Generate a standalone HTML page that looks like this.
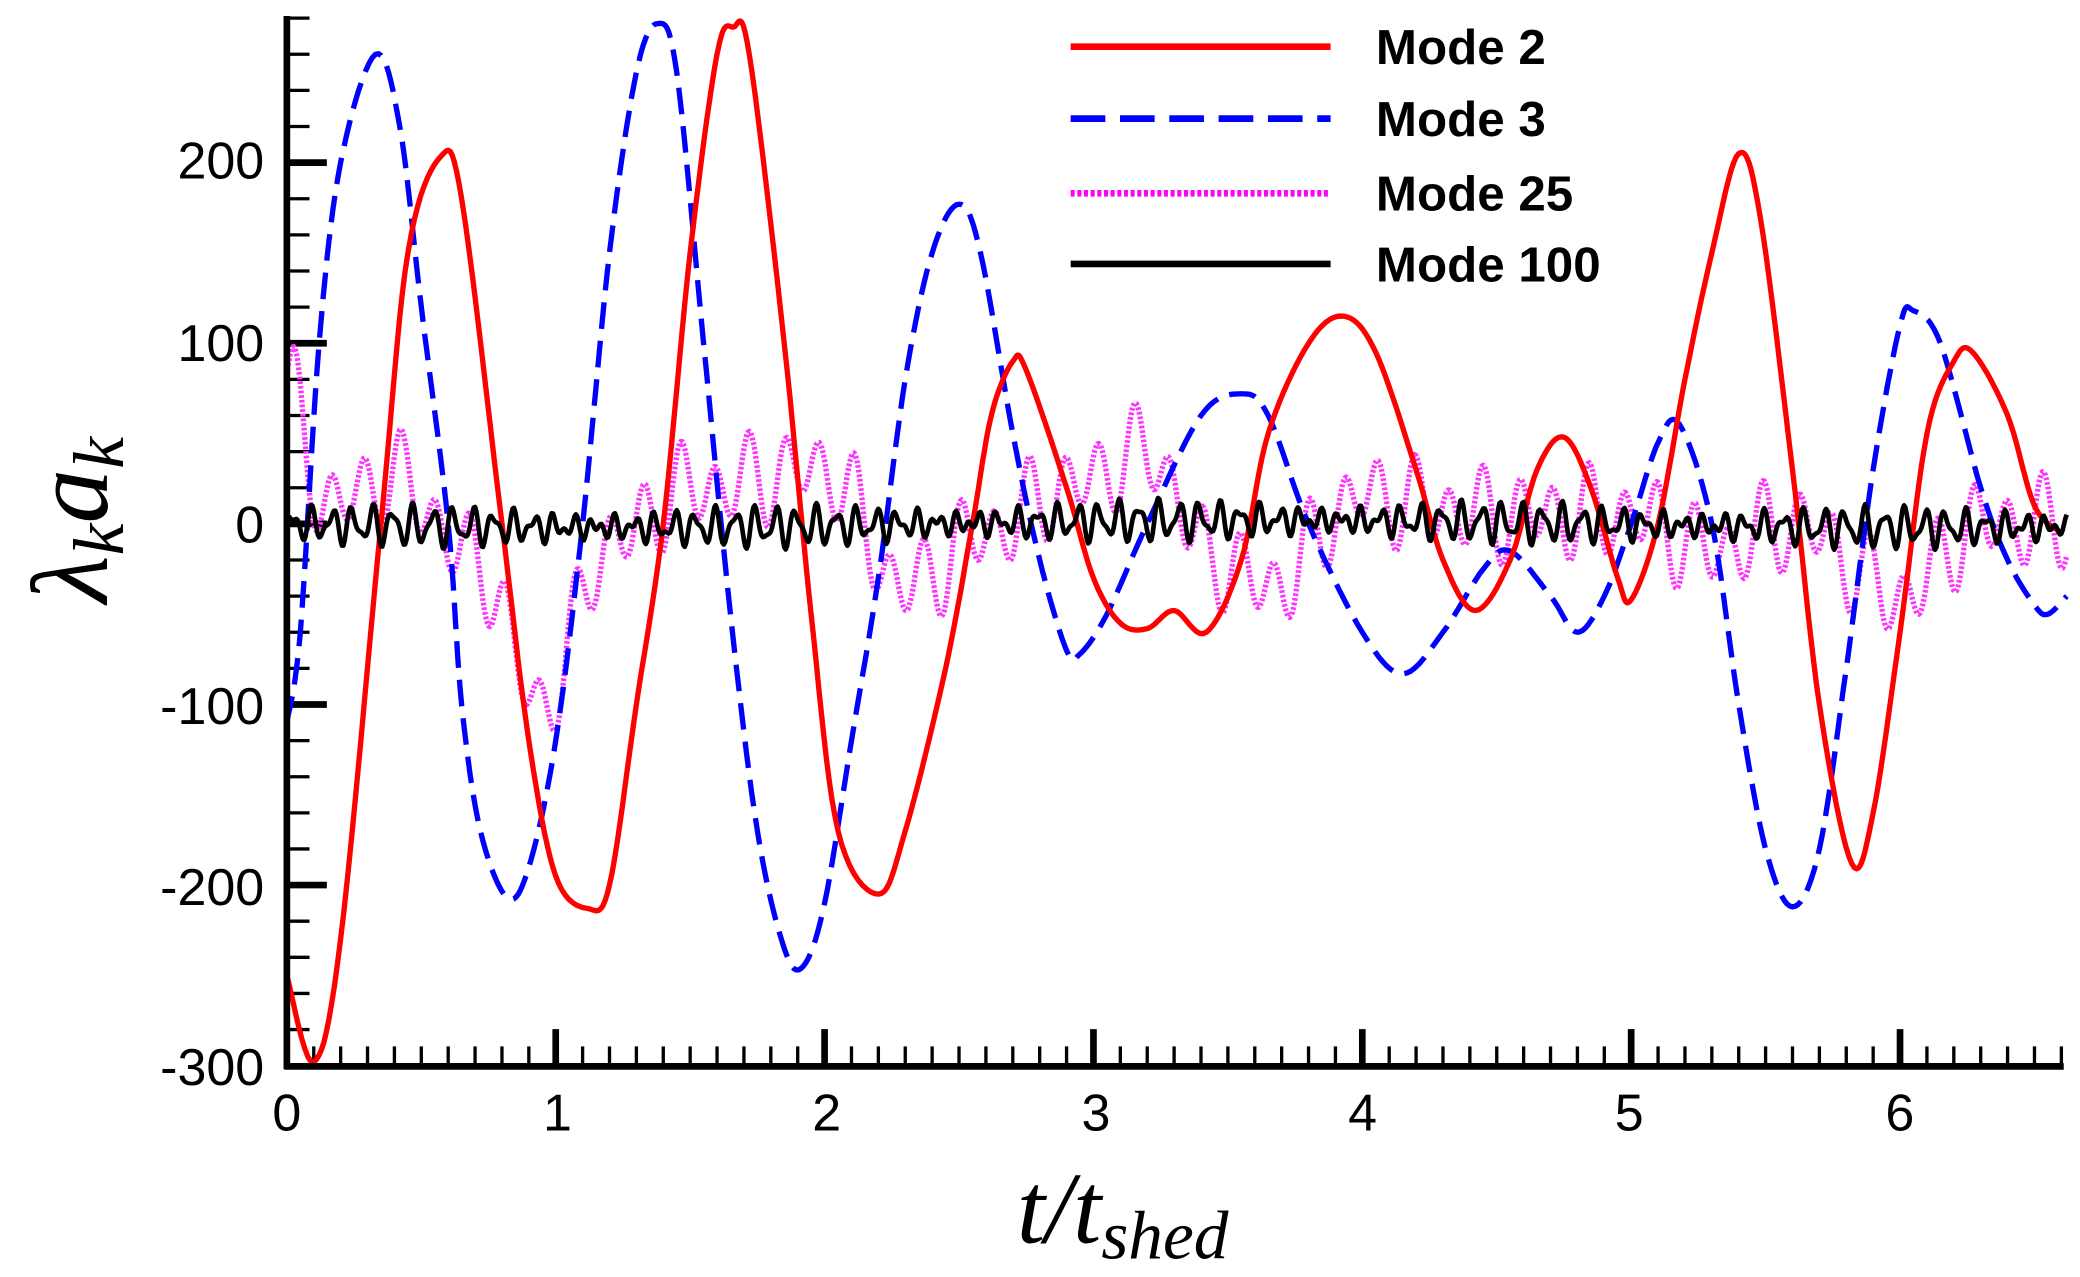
<!DOCTYPE html>
<html><head><meta charset="utf-8"><style>
html,body{margin:0;padding:0;background:#fff;width:2080px;height:1277px;overflow:hidden}
svg{display:block}
</style></head><body>
<svg id="s" width="2080" height="1277" viewBox="0 0 1560 958" xmlns="http://www.w3.org/2000/svg">
<g id="ticks" stroke="#000"></g>
<g id="curves" fill="none" stroke-linejoin="round"></g>
<line x1="215" y1="12" x2="215" y2="802" stroke="#000" stroke-width="5"/>
<line x1="213" y1="800" x2="1548" y2="800" stroke="#000" stroke-width="5"/>
<g font-family="Liberation Sans, sans-serif" font-size="39" fill="#000" text-anchor="end">
<text x="198" y="134">200</text><text x="198" y="271">100</text><text x="198" y="407">0</text>
<text x="198" y="543">-100</text><text x="198" y="679">-200</text><text x="198" y="814">-300</text>
</g>
<g font-family="Liberation Sans, sans-serif" font-size="39" fill="#000" text-anchor="middle">
<text x="215" y="848">0</text><text x="418" y="848">1</text><text x="620" y="848">2</text><text x="822" y="848">3</text>
<text x="1022" y="848">4</text><text x="1222" y="848">5</text><text x="1425" y="848">6</text>
</g>
<text x="842" y="932" font-family="Liberation Serif, serif" font-style="italic" font-size="76" text-anchor="middle">t/t<tspan font-size="52" dy="12">shed</tspan></text>
<text transform="translate(80,390) rotate(-90)" font-family="Liberation Serif, serif" font-style="italic" font-size="82" text-anchor="middle">λ<tspan font-size="54" dy="12">k</tspan><tspan dy="-12">a</tspan><tspan font-size="54" dy="12">k</tspan></text>
<g stroke-width="5">
<line x1="803" y1="35" x2="998" y2="35" stroke="#f00"/>
<line x1="803" y1="89" x2="998" y2="89" stroke="#00f" stroke-dasharray="26,11"/>
<line x1="803" y1="145" x2="998" y2="145" stroke="#f0f" stroke-dasharray="3,2"/>
<line x1="803" y1="198" x2="998" y2="198" stroke="#000"/>
</g>
<g font-family="Liberation Sans, sans-serif" font-weight="bold" font-size="37" fill="#000">
<text x="1032" y="48">Mode 2</text><text x="1032" y="102">Mode 3</text>
<text x="1032" y="158">Mode 25</text><text x="1032" y="211">Mode 100</text>
</g>
</svg>
<script>
var NS="http://www.w3.org/2000/svg";
function X(t){return 215+t*201.7}function Y(v){return 393-v*1.355}
var tk=document.getElementById('ticks');
function ln(x1,y1,x2,y2,w){var l=document.createElementNS(NS,'line');l.setAttribute('x1',x1);l.setAttribute('y1',y1);l.setAttribute('x2',x2);l.setAttribute('y2',y2);l.setAttribute('stroke-width',w);tk.appendChild(l);}
for(var i=1;i<=66;i++){var x=X(i/10);if(i%10==0)ln(x,800,x,772,5);else ln(x,800,x,785,2.5);}
for(var v=-280;v<=280;v+=20){var y=Y(v);if(v%100==0)ln(215,y,245,y,5);else ln(215,y,232,y,2.5);}
function path(pts,attrs){var d='';for(var i=0;i<pts.length;i++){var p=pts[i];d+=(i?'L':'M')+p[0].toFixed(1)+' '+p[1].toFixed(1);}
var e=document.createElementNS(NS,'path');e.setAttribute('d',d);for(var k in attrs)e.setAttribute(k,attrs[k]);document.getElementById('curves').appendChild(e);}
function spline(k){var out=[];for(var i=0;i<k.length-1;i++){var p0=k[Math.max(i-1,0)],p1=k[i],p2=k[i+1],p3=k[Math.min(i+2,k.length-1)];
for(var s=0;s<10;s++){var t=s/10,t2=t*t,t3=t2*t;var f=function(a,b,c,d){return 0.5*(2*b+(-a+c)*t+(2*a-5*b+4*c-d)*t2+(-a+3*b-3*c+d)*t3)};
out.push([X(f(p0[0],p1[0],p2[0],p3[0])),Y(f(p0[1],p1[1],p2[1],p3[1]))]);}}out.push([X(k[k.length-1][0]),Y(k[k.length-1][1])]);return out;}
var m2=[[0,-250],[0.1,-298],[0.2,-230],[0.35,0],[0.45,150],[0.57,203],[0.65,180],[0.8,0],[0.9,-120],[1.0,-195],[1.12,-213],[1.2,-200],[1.3,-100],[1.4,0],[1.5,150],[1.6,260],[1.66,275],[1.72,260],[1.85,100],[1.95,-50],[2.05,-170],[2.2,-205],[2.3,-170],[2.45,-80],[2.55,0],[2.62,60],[2.7,90],[2.75,85],[2.9,20],[3.0,-30],[3.1,-55],[3.2,-58],[3.3,-48],[3.42,-60],[3.55,-20],[3.65,50],[3.8,100],[3.93,115],[4.05,95],[4.2,30],[4.3,-20],[4.42,-48],[4.55,-20],[4.65,30],[4.75,48],[4.85,20],[4.95,-30],[5.0,-42],[5.1,0],[5.2,80],[5.3,150],[5.4,205],[5.48,170],[5.6,30],[5.7,-100],[5.82,-188],[5.9,-160],[6.0,-60],[6.1,50],[6.2,90],[6.27,95],[6.4,60],[6.5,10],[6.6,-5]];
var m3=[[0,-110],[0.05,-60],[0.12,100],[0.2,200],[0.33,260],[0.42,220],[0.5,120],[0.6,0],[0.65,-100],[0.72,-170],[0.82,-207],[0.9,-190],[1.0,-120],[1.1,0],[1.2,150],[1.3,250],[1.38,277],[1.45,250],[1.55,100],[1.65,-50],[1.75,-170],[1.85,-235],[1.92,-245],[2.0,-210],[2.1,-120],[2.2,-30],[2.3,80],[2.4,150],[2.5,177],[2.58,150],[2.7,50],[2.8,-20],[2.9,-70],[2.95,-72],[3.05,-50],[3.2,0],[3.4,60],[3.55,72],[3.65,60],[3.8,0],[4.0,-60],[4.15,-83],[4.3,-60],[4.45,-25],[4.55,-15],[4.7,-40],[4.8,-60],[4.9,-40],[5.0,0],[5.1,45],[5.18,55],[5.3,0],[5.4,-100],[5.5,-180],[5.6,-212],[5.7,-180],[5.8,-80],[5.9,30],[6.0,110],[6.05,118],[6.15,100],[6.3,20],[6.4,-20],[6.5,-45],[6.55,-50],[6.62,-40]];
var base25=[[0,75],[0.15,10],[0.4,25],[0.7,-20],[0.95,-100],[1.2,-10],[1.5,20],[2.0,30],[2.3,-35],[2.6,-5],[2.9,20],[3.2,40],[3.45,-20],[3.65,-35],[4.0,15],[4.5,5],[5.0,5],[5.3,-15],[5.6,0],[6.0,-40],[6.3,0],[6.62,0]];
function interp(k,t){for(var i=0;i<k.length-1;i++){if(t<=k[i+1][0]){var a=(t-k[i][0])/(k[i+1][0]-k[i][0]);a=(1-Math.cos(Math.PI*a))/2;return k[i][1]+a*(k[i+1][1]-k[i][1]);}}return k[k.length-1][1];}
var p25=[],p100=[];
for(var t=0;t<=6.62;t+=0.005){var v=interp(base25,t)+20*Math.sin(t*2*Math.PI/0.13)+9*Math.sin(t*2*Math.PI/0.21+1);p25.push([X(t),Y(v)]);
var w=3+6*Math.abs(Math.sin(t*2.3+0.5));var u=w*Math.sin(t*2*Math.PI/0.075)+4*Math.sin(t*2*Math.PI/0.047+2)-2*Math.sin(t*1.3);p100.push([X(t),Y(u)]);}
path(p25,{stroke:'#ff33ff','stroke-width':4,'stroke-dasharray':'2,1.5'});
path(spline(m3),{stroke:'#0000ff','stroke-width':4,'stroke-dasharray':'20,9'});
path(spline(m2),{stroke:'#ff0000','stroke-width':4});
path(p100,{stroke:'#000','stroke-width':3.5});
</script>
</body></html>
